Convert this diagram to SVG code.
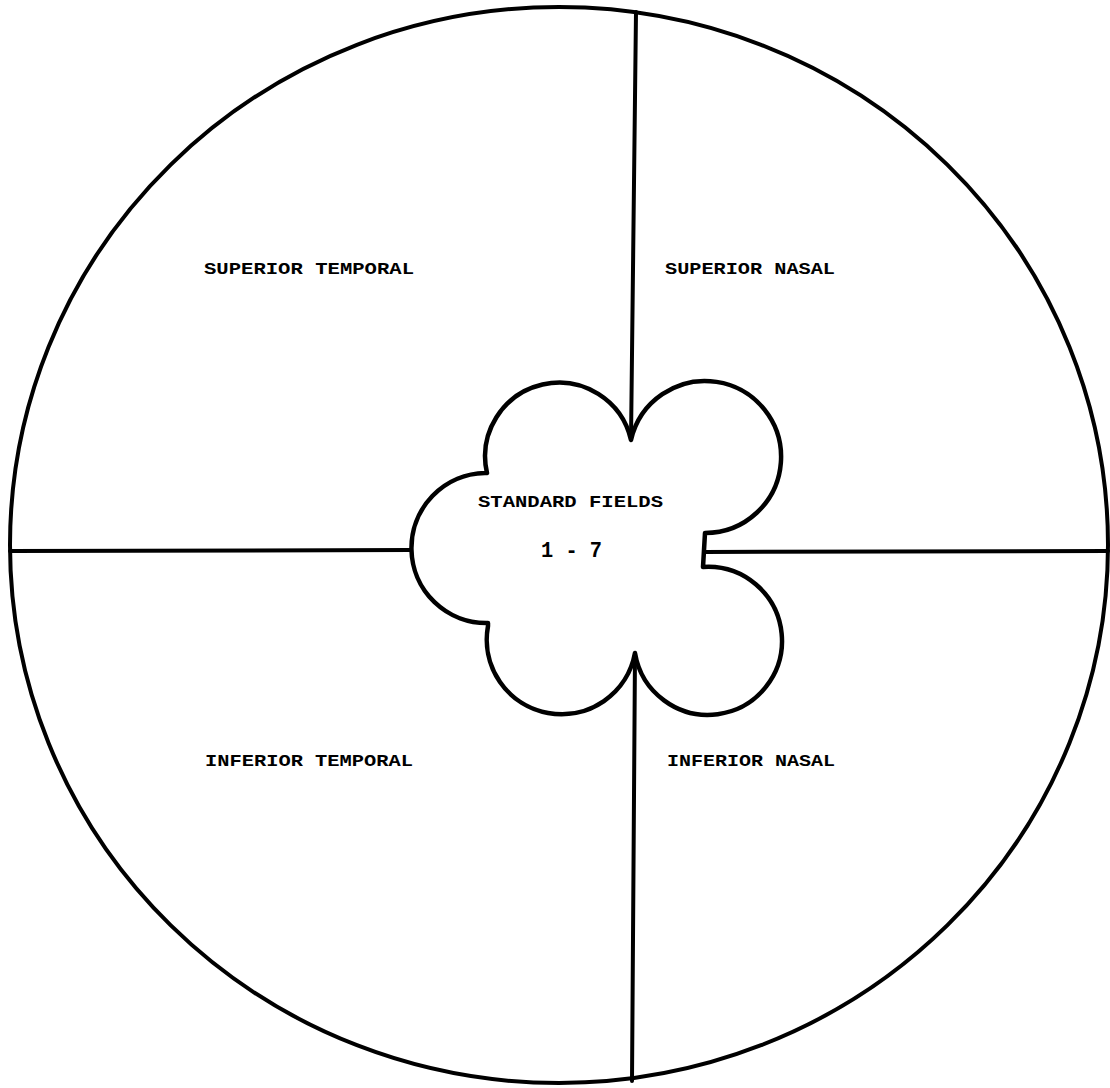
<svg xmlns="http://www.w3.org/2000/svg" width="1110" height="1088" viewBox="0 0 1110 1088">
<style>
.ln{fill:none;stroke:#000;stroke-width:4;stroke-linecap:round;stroke-linejoin:round}
.fl{fill:#fff;stroke:#000;stroke-width:4.5;stroke-linejoin:round}
.lb{font-family:"Liberation Mono","DejaVu Sans Mono",monospace;font-weight:bold;font-size:17px;fill:#000}
.nm{font-family:"Liberation Mono","DejaVu Sans Mono",monospace;font-weight:bold;font-size:22px;fill:#000}
</style>
<rect width="1110" height="1088" fill="#fff"/>
<g id="outer-field">
<ellipse class="ln" cx="559" cy="545" rx="549" ry="538"/>
</g>
<g id="connectors">
<path class="ln" d="M636,12 L631,440"/>
<path class="ln" d="M635,653 L632,1081"/>
<path class="ln" d="M10,551 L411,550"/>
<path class="ln" d="M705,552 L1108,551"/>
</g>
<g id="standard-fields">
<path class="fl" d="M631,440 A73,73 0 1 0 487,473 L485,473 A75,75 0 1 0 488,623 L488,626 A74,74 0 1 0 635,653 A74,74 0 1 0 703,567 L705,533 A76,76 0 1 0 631,440 Z"/>
<text class="lb" x="478" y="507" textLength="185" lengthAdjust="spacingAndGlyphs">STANDARD FIELDS</text>
<text class="nm" x="541" y="557" textLength="61" lengthAdjust="spacingAndGlyphs">1 - 7</text>
</g>
<g id="superior-temporal">
<text class="lb" x="204" y="274" textLength="210" lengthAdjust="spacingAndGlyphs">SUPERIOR TEMPORAL</text>
</g>
<g id="superior-nasal">
<text class="lb" x="665" y="274" textLength="170" lengthAdjust="spacingAndGlyphs">SUPERIOR NASAL</text>
</g>
<g id="inferior-temporal">
<text class="lb" x="205" y="766" textLength="208" lengthAdjust="spacingAndGlyphs">INFERIOR TEMPORAL</text>
</g>
<g id="inferior-nasal">
<text class="lb" x="667" y="766" textLength="168" lengthAdjust="spacingAndGlyphs">INFERIOR NASAL</text>
</g>
</svg>
